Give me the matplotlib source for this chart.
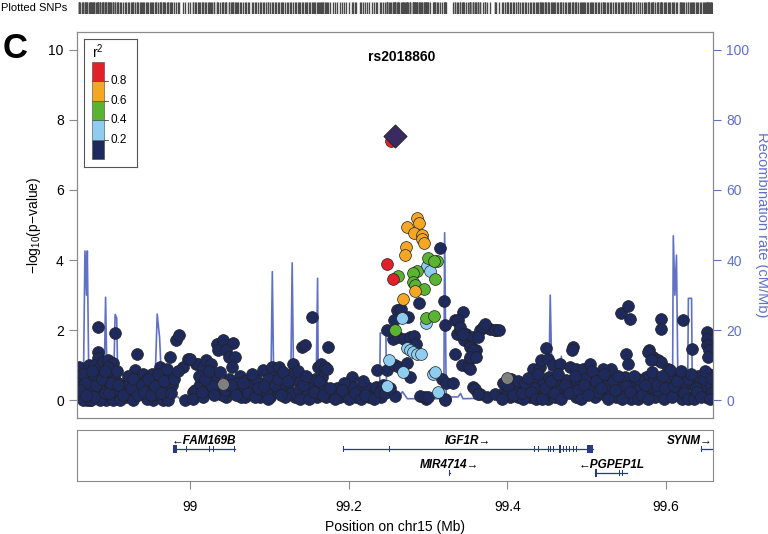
import matplotlib
matplotlib.use("Agg")
import matplotlib.pyplot as plt

plt.rcParams['font.family'] = ['Liberation Sans', 'DejaVu Sans']
plt.rcParams['mathtext.default'] = 'regular'

# SNPs with r2 < 0.2 (position in Mb, -log10 p)
navy_pos = [
    98.860, 98.861, 98.864, 98.871, 98.873, 98.876, 98.874, 98.885, 98.884, 98.884, 98.880, 98.887, 98.891, 98.897, 98.903, 98.906,
    98.903, 98.895, 98.887, 98.883, 98.895, 98.891, 98.878, 98.868, 98.870, 98.899, 98.906, 98.914, 98.918, 98.924, 98.920, 98.927,
    98.933, 98.934, 98.931, 98.937, 98.941, 98.945, 98.952, 98.950, 98.954, 98.958, 98.962, 98.966, 98.962, 98.966, 98.975, 98.973,
    98.973, 98.983, 98.987, 98.992, 98.998, 98.994, 99.004, 99.008,
    98.866, 98.861, 98.865, 98.876, 98.887, 98.880, 98.899, 98.903, 98.897, 98.874, 98.891,
    99.006, 99.010, 99.000, 99.004, 99.017, 99.021, 99.027, 99.034, 99.042, 99.055, 99.036, 99.046, 99.050, 99.057, 99.031, 99.025,
    99.017, 99.053, 99.063, 99.061, 99.071, 99.069, 99.080, 99.088, 99.092, 99.090, 99.103, 99.105, 99.113, 99.109, 99.101, 99.122,
    99.130, 99.141, 99.145, 99.134, 99.132, 99.126, 99.154, 99.162, 99.151, 99.160, 99.013, 99.023, 99.034, 99.046, 99.055, 99.065,
    99.174, 99.165, 99.170, 99.166, 99.173, 99.155, 99.164, 99.172, 99.180, 99.189, 99.197, 99.204, 99.206, 99.214, 99.223, 99.229,
    99.235, 99.236, 99.241, 99.248, 99.258, 99.259, 99.264, 99.273, 99.277, 99.290, 99.298,
    99.248, 99.256, 99.262, 99.270, 99.277, 99.283, 99.285, 99.261, 99.266, 99.257, 99.275, 99.289, 99.315, 99.320, 99.321, 99.318,
    99.323, 99.332, 99.321,
    99.344, 99.334, 99.336, 99.340, 99.348, 99.346, 99.353, 99.357, 99.361, 99.353, 99.365, 99.372, 99.378, 99.386, 99.334, 99.343,
    99.350, 99.357, 99.365, 99.374, 99.384,
    99.338, 99.340, 99.344, 99.353, 99.357, 99.353, 99.361, 99.363, 99.369, 99.372, 99.384, 99.390, 99.353, 99.359, 99.363, 99.296,
    99.300, 99.321,
    99.405, 99.411, 99.416, 99.397, 99.403, 99.413, 99.424, 99.428, 99.432, 99.441, 99.443, 99.449, 99.451, 99.437, 99.445, 99.441,
    99.453, 99.458, 99.456, 99.451, 99.466, 99.462,
    99.479, 99.483, 99.481, 99.487, 99.495, 99.504, 99.474, 99.470, 99.483, 99.491, 99.487, 99.500, 99.508, 99.516, 99.510, 99.520,
    99.525, 99.531, 99.529, 99.537, 99.541, 99.543, 99.552, 99.555, 99.550, 99.552, 99.548, 99.558, 99.562, 99.567, 99.575, 99.520,
    99.579, 99.583, 99.590, 99.594, 99.593, 99.593, 99.579, 99.586, 99.592, 99.602, 99.609, 99.600, 99.617, 99.621, 99.617, 99.625,
    99.632, 99.634, 99.630, 99.642, 99.646, 99.652, 99.652, 99.652, 99.654, 99.653, 99.654, 99.650, 99.577, 99.581, 99.605,
    99.395, 99.400, 99.408, 99.420, 99.434, 99.447, 99.460, 99.467, 99.476, 99.494, 99.498, 99.505, 99.514, 99.523, 99.533, 99.546,
    99.556, 99.565, 99.572, 99.584, 99.590, 99.597, 99.604, 99.612, 99.620, 99.628, 99.637, 99.640, 99.648, 99.656, 99.657,
    99.015, 99.028, 99.040, 99.049, 99.059, 99.075, 99.084, 99.096, 99.099, 99.116, 99.120, 99.128, 99.138, 99.148, 99.158, 99.168,
    99.185, 99.194, 99.210, 99.218, 99.226, 99.244,
    98.868, 98.879, 98.893, 98.910, 98.912, 98.929, 98.939, 98.946, 98.957, 98.969, 98.978,
    98.862, 98.869, 98.877, 98.882, 98.889, 98.893, 98.898, 98.901, 98.908, 98.910, 98.916, 98.922, 98.926, 98.929,
    98.935, 98.940, 98.943, 98.948, 98.951, 98.956, 98.960, 98.964, 98.968, 98.971, 98.976, 98.980, 98.985,
    99.012, 99.019, 99.024, 99.030, 99.038, 99.044, 99.052, 99.058, 99.067, 99.073, 99.078, 99.082, 99.086,
    99.094, 99.098, 99.107, 99.111, 99.115, 99.118, 99.124, 99.136, 99.139, 99.143, 99.147, 99.150, 99.157,
    99.163, 99.168, 99.177, 99.183, 99.192, 99.201, 99.208, 99.216, 99.221, 99.232, 99.239, 99.246, 99.252,
    99.393, 99.401, 99.407, 99.414, 99.419, 99.422, 99.426, 99.430, 99.436, 99.439, 99.444, 99.448, 99.455, 99.459,
    99.464, 99.468, 99.472, 99.478, 99.485, 99.489, 99.493, 99.497, 99.502, 99.507, 99.512, 99.518, 99.522, 99.527,
    99.535, 99.539, 99.544, 99.549, 99.554, 99.560, 99.564, 99.569, 99.573, 99.577, 99.582, 99.588, 99.595, 99.599,
    99.607, 99.610, 99.614, 99.619, 99.623, 99.627, 99.631, 99.635, 99.639, 99.644, 99.649, 99.655, 99.658,
]
navy_logp = [
    0.95, 0.57, 0.10, 0.76, 1.00, 0.57, 0.00, 2.10, 1.38, 1.20, 1.00, 0.95, 1.10, 1.14, 1.07, 1.93,
    0.76, 0.57, 0.38, 0.19, 0.00, 0.38, 0.29, 0.29, 0.00, 0.76, 0.57, 0.48, 0.38, 0.48, 0.10, 0.19,
    0.38, 1.31, 0.86, 0.67, 0.76, 0.57, 0.76, 0.38, 0.00, 0.19, 0.57, 0.76, 0.95, 0.00, 1.24, 0.76,
    0.00, 1.71, 1.86, 0.95, 1.19, 0.00, 0.24, 1.05,
    0.76, 0.38, 0.00, 0.00, 0.00, 0.67, 0.38, 0.00, 0.95, 0.43, 0.76,
    0.29, 1.05, 1.19, 0.05, 0.95, 1.14, 1.05, 1.62, 1.73, 1.64, 1.43, 1.43, 1.24, 1.24, 0.62, 0.29,
    0.10, 0.95, 0.71, 0.38, 0.57, 0.10, 0.29, 0.10, 0.86, 0.48, 0.95, 0.67, 0.95, 0.29, 0.10, 0.38,
    1.05, 1.52, 1.57, 0.57, 0.10, 0.19, 2.38, 0.95, 0.38, 0.10, 0.48, 0.48, 0.29, 0.10, 0.29, 0.10,
    1.52, 1.05, 0.95, 0.67, 0.90, 0.38, 0.19, 0.10, 0.24, 0.10, 0.19, 0.67, 0.38, 0.29, 0.38, 0.19,
    0.38, 0.86, 0.10, 0.86, 1.00, 0.14, 0.95, 1.08, 0.67, 0.14, 0.05,
    2.00, 1.76, 1.81, 1.76, 1.81, 1.85, 1.62, 2.57, 2.62, 2.29, 2.38, 2.78, 4.35, 2.84, 2.14, 0.62,
    0.50, 0.50, 0.05,
    2.52, 2.29, 1.90, 2.00, 1.90, 1.71, 1.62, 1.81, 1.43, 1.19, 2.00, 2.09, 2.05, 2.00, 1.31, 1.00,
    0.95, 0.38, 0.19, 0.10, 0.19,
    2.29, 2.09, 1.90, 1.52, 1.43, 1.24, 1.24, 1.81, 2.09, 2.19, 2.00, 2.00, 0.90, 0.33, 0.19, 0.10,
    0.10, 0.00,
    0.62, 0.48, 0.38, 0.29, 0.10, 0.10, 0.29, 0.10, 0.90, 0.95, 1.14, 1.50, 1.19, 0.57, 0.48, 0.19,
    0.67, 1.00, 0.29, 0.05, 1.05, 0.48,
    0.95, 1.52, 1.43, 0.90, 0.90, 1.05, 0.57, 0.19, 0.38, 0.57, 0.10, 0.29, 0.67, 0.48, 0.10, 0.19,
    0.67, 0.90, 0.29, 0.10, 0.48, 2.48, 2.69, 2.31, 1.33, 1.05, 0.67, 0.48, 0.19, 0.38, 0.67, 0.89,
    1.43, 1.24, 1.14, 1.10, 2.33, 2.05, 0.29, 0.10, 0.48, 0.90, 0.67, 0.19, 0.67, 2.30, 0.29, 0.48,
    1.46, 0.43, 0.10, 0.19, 0.38, 1.95, 1.76, 1.57, 1.43, 1.24, 0.76, 0.10, 1.38, 1.14, 0.86,
    0.50, 0.20, 0.30, 0.05, 0.35, 0.25, 0.10, 0.30, 0.35, 0.20, 0.60, 0.35, 0.25, 0.40, 0.55, 0.20,
    0.05, 0.60, 0.15, 0.55, 0.30, 0.05, 0.45, 0.20, 0.05, 0.60, 0.35, 0.70, 0.60, 0.45, 0.20,
    0.25, 0.40, 0.15, 0.60, 0.50, 0.40, 0.60, 0.25, 0.60, 0.50, 0.10, 0.75, 0.30, 0.15, 0.60, 0.40,
    0.35, 0.50, 0.10, 0.55, 0.10, 0.45,
    0.50, 0.10, 0.20, 0.20, 0.00, 0.00, 0.25, 0.05, 0.55, 0.35, 0.45,
    0.30, 0.15, 0.85, 0.45, 0.60, 0.85, 0.20, 0.50, 0.85, 0.45, 0.15, 0.70, 0.35, 0.60,
    0.15, 0.45, 0.25, 0.60, 0.15, 0.40, 0.75, 0.20, 0.55, 0.90, 0.20, 0.60, 0.85,
    0.70, 0.60, 0.85, 0.15, 0.80, 0.30, 0.45, 0.15, 0.50, 0.20, 0.75, 0.10, 0.35,
    0.40, 0.05, 0.45, 0.60, 0.15, 0.80, 0.55, 0.85, 0.05, 0.45, 0.70, 0.05, 0.25,
    0.55, 0.15, 0.35, 0.05, 0.30, 0.05, 0.20, 0.05, 0.15, 0.05, 0.25, 0.20, 0.35,
    0.05, 0.40, 0.15, 0.55, 0.20, 0.50, 0.65, 0.25, 0.05, 0.75, 0.05, 0.35, 0.55, 0.20,
    0.75, 0.05, 0.45, 0.20, 0.70, 0.30, 0.05, 0.45, 0.15, 0.85, 0.55, 0.35, 0.75, 0.05,
    0.30, 0.70, 0.05, 0.40, 0.25, 0.70, 0.05, 0.15, 0.45, 0.05, 0.80, 0.45, 0.70, 0.35,
    0.10, 0.40, 0.55, 0.85, 0.20, 0.05, 0.75, 0.05, 0.25, 0.10, 0.85, 0.05, 0.65,
]

# SNPs without r2 information
gray_pos = [99.042, 99.399]
gray_logp = [0.48, 0.65]

lightblue_pos = [99.299, 99.303, 99.297, 99.267, 99.273, 99.277, 99.281, 99.286, 99.291, 99.251, 99.268, 99.306, 99.309, 99.248, 99.313]
lightblue_logp = [3.84, 3.69, 2.21, 2.34, 1.50, 1.45, 1.38, 1.33, 1.33, 1.16, 0.81, 0.74, 0.81, 0.41, 0.24]

green_pos = [99.300, 99.311, 99.307, 99.262, 99.286, 99.281, 99.281, 99.284, 99.295, 99.309, 99.297, 99.308, 99.259]
green_logp = [4.07, 3.98, 3.97, 3.54, 3.69, 3.64, 3.38, 3.30, 3.18, 3.46, 2.36, 2.40, 2.02]

orange_pos = [99.286, 99.289, 99.274, 99.283, 99.292, 99.293, 99.295, 99.272, 99.271, 99.284, 99.268]
orange_logp = [5.19, 5.05, 4.93, 4.76, 4.71, 4.59, 4.48, 4.38, 4.14, 3.12, 2.88]

red_pos = [99.249, 99.256, 99.253]
red_logp = [3.88, 3.45, 7.40]

lead_snp = "rs2018860"
lead_pos = 99.259
lead_logp = 7.54

# recombination rate (cM/Mb)
rec_pos = [98.859, 98.866, 98.868, 98.870, 98.871, 98.873, 98.892, 98.894, 98.896, 98.904, 98.906, 98.908, 98.909, 98.911,
           98.956, 98.959, 98.962, 98.965, 98.977, 98.985, 98.990, 99.000, 99.010, 99.102, 99.104, 99.106, 99.127, 99.129,
           99.131, 99.159, 99.161, 99.162, 99.239, 99.240, 99.247, 99.248, 99.262, 99.268, 99.274, 99.320, 99.321, 99.323,
           99.338, 99.341, 99.344, 99.452, 99.454, 99.456, 99.466, 99.468, 99.470, 99.608, 99.609, 99.611, 99.613, 99.615,
           99.627, 99.628, 99.632, 99.633, 99.659]
rec_rate = [2, 3, 42.6, 30, 42.6, 3, 3, 29.4, 3, 3, 24.5, 23.5, 10, 3,
            3, 24.6, 18, 3, 2, 1, 0, 0.2, 1, 1, 36.7, 1, 1, 39.2,
            1, 1, 34.8, 1, 1, 19.2, 19.2, 1, 0.5, 2.5, 0.5, 0.5, 47.8, 1,
            1, 2, 0.5, 1, 30, 8, 3, 12.6, 2, 1, 46.9, 30, 41.4, 1,
            1, 29.1, 29.1, 1, 1]

# genes: name, start, end, strand, row, exons
gene_names = ["FAM169B", "IGF1R", "SYNM", "MIR4714", "PGPEP1L"]
gene_start = [98.979, 99.193, 99.644, 99.327, 99.511]
gene_end = [99.057, 99.508, 99.660, 99.3275, 99.551]
gene_strand = ["-", "+", "+", "+", "-"]
gene_row = [1, 1, 1, 0, 0]
gene_exons = [
    [(98.979, 98.984), (98.995, 98.996), (99.024, 99.025), (99.029, 99.030), (99.056, 99.057)],
    [(99.193, 99.194), (99.251, 99.252), (99.434, 99.435), (99.439, 99.440), (99.451, 99.452), (99.454, 99.455),
     (99.458, 99.459), (99.462, 99.463), (99.465, 99.468), (99.470, 99.471), (99.474, 99.475), (99.478, 99.479),
     (99.483, 99.484), (99.487, 99.488), (99.491, 99.492), (99.500, 99.508)],
    [(99.644, 99.645), (99.656, 99.657)],
    [(99.327, 99.3275)],
    [(99.511, 99.513), (99.541, 99.542), (99.545, 99.546), (99.549, 99.550)],
]

xticks = [99, 99.2, 99.4, 99.6]
xticklabels = ["99", "99.2", "99.4", "99.6"]

# colours
NAVY = '#1f2a5c'
LBLUE = '#8ecdf0'
GREEN = '#5bb332'
ORANGE = '#f5a623'
RED = '#e2202a'
GRAY = '#7f7f7f'
RECOMB = '#6070c4'
FRAME = '#8a8a8a'

W, H = 768, 534
XLIM = (98.858, 99.659)


def box(x0, y0, x1, y1):  # pixel box -> figure fraction
    return [x0 / W, 1 - y1 / H, (x1 - x0) / W, (y1 - y0) / H]


fig = plt.figure(figsize=(7.68, 5.34), dpi=100)
ax = fig.add_axes(box(77, 32, 713, 418))
ax2 = ax.twinx()
gax = fig.add_axes(box(77, 430, 713, 481))
rax = fig.add_axes(box(77, 2, 713, 14))
lax = fig.add_axes(box(84, 39, 137, 167))

# recombination line behind points
ax.set_zorder(ax2.get_zorder() + 1)
ax.patch.set_visible(False)
ax2.plot(rec_pos, rec_rate, color=RECOMB, lw=1.2)
ax2.set_ylim(-5, 105)
ax2.set_yticks([0, 20, 40, 60, 80, 100])
ax2.tick_params(axis='y', colors=RECOMB, labelsize=10, length=6, labelcolor=RECOMB)
ax2.set_ylabel("Recombination rate (cM/Mb)", color=RECOMB, fontsize=10.5, rotation=270, labelpad=14)
for s in ax2.spines.values():
    s.set_color(FRAME)

kw = dict(s=72, linewidths=0.5, edgecolors='#222222')
ax.scatter(navy_pos, navy_logp, c=NAVY, **kw)
ax.scatter(gray_pos, gray_logp, c=GRAY, **kw)
ax.scatter(lightblue_pos, lightblue_logp, c=LBLUE, **kw)
ax.scatter(green_pos, green_logp, c=GREEN, **kw)
ax.scatter(orange_pos, orange_logp, c=ORANGE, **kw)
ax.scatter(red_pos, red_logp, c=RED, **kw)
ax.scatter([lead_pos], [lead_logp], marker='D', s=140, c='#3b2a60', edgecolors='#222222', linewidths=0.6)
ax.text(0.511, 0.935, lead_snp, transform=ax.transAxes, ha='center', va='center',
        fontsize=10, fontweight='bold')

ax.set_xlim(*XLIM)
ax.set_ylim(-0.5, 10.5)
ax.set_xticks([])
ax.set_yticks([0, 2, 4, 6, 8, 10])
ax.tick_params(axis='y', labelsize=10, length=6, color=FRAME)
ax.set_ylabel("\u2212log$_{10}$(p\u2212value)", fontsize=10, labelpad=4)
for s in ax.spines.values():
    s.set_color(FRAME)

# gene track
gax.set_xlim(*XLIM)
gax.set_ylim(0, 1)
row_y = {1: 0.63, 0: 0.16}
for name, st, en, strand, row, exons in zip(gene_names, gene_start, gene_end, gene_strand, gene_row, gene_exons):
    y = row_y[row]
    gax.plot([st, en], [y, y], color='#2a3a80', lw=0.9)
    for e0, e1 in exons:
        w = max(e1 - e0, 0.0009)
        h = 0.16 if (e1 - e0) > 0.002 else 0.12
        gax.add_patch(plt.Rectangle((e0, y - h / 2), w, h, color='#2a3a80', lw=0))
    label = "\u2190" + name if strand == "-" else name + "\u2192"
    cx = (st + en) / 2
    ha = 'center'
    if en > XLIM[1] - 0.01:
        cx, ha = XLIM[1] - 0.001, 'right'
    gax.text(cx, y + 0.16, label, ha=ha, va='center', fontsize=8.5, fontweight='bold', fontstyle='italic')
gax.set_yticks([])
gax.set_xticks(xticks)
gax.set_xticklabels(xticklabels)
gax.tick_params(axis='x', labelsize=10, length=6, color=FRAME, pad=8)
gax.set_xlabel("Position on chr15 (Mb)", fontsize=10, labelpad=4)
for s in gax.spines.values():
    s.set_color(FRAME)

# plotted SNPs rug
all_pos = navy_pos + gray_pos + lightblue_pos + green_pos + orange_pos + red_pos + [lead_pos]
rax.set_xlim(*XLIM)
rax.set_ylim(0, 1)
rax.vlines(all_pos, 0, 1, color='#4a4a4a', lw=1.0)
rax.axis('off')
fig.text(0.001, 1 - 8 / H, "Plotted SNPs", fontsize=8, va='center', ha='left')

# r2 legend
lax.set_xlim(0, 1)
lax.set_ylim(0, 1)
lax.set_xticks([])
lax.set_yticks([])
for s in lax.spines.values():
    s.set_color('#555555')
legend_colors = [NAVY, LBLUE, GREEN, ORANGE, RED]
legend_labels = ["0.2", "0.4", "0.6", "0.8"]
y0, bh = 0.06, 0.1525
for i, c in enumerate(legend_colors):
    lax.add_patch(plt.Rectangle((0.151, y0 + i * bh), 0.226, bh, facecolor=c, edgecolor='#444444', lw=0.4))
for i, t in enumerate(legend_labels):
    yy = y0 + (i + 1) * bh
    lax.plot([0.377, 0.45], [yy, yy], color='#444444', lw=0.6)
    lax.text(0.5, yy, t, fontsize=8.5, va='center', ha='left')
lax.text(0.264, 0.9, "r$^2$", fontsize=10, ha='center', va='center')

fig.text(0.003, 1 - 48 / H, "C", fontsize=25, fontweight='bold', va='center', ha='left')

fig.savefig("out.png", dpi=100)
